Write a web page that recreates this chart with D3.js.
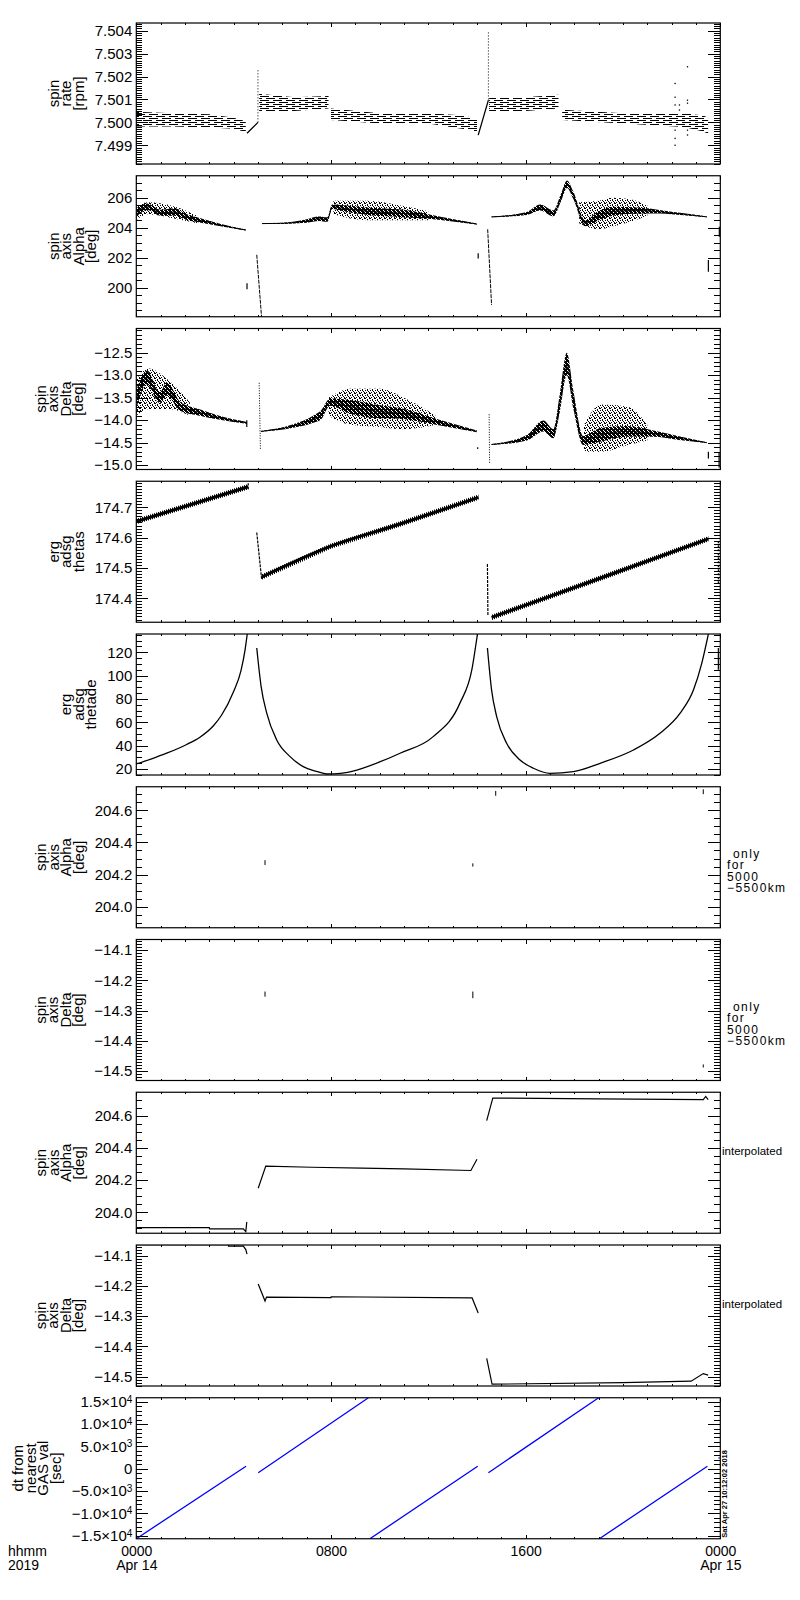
<!DOCTYPE html>
<html>
<head>
<meta charset="utf-8">
<script src="https://cdn.jsdelivr.net/npm/d3@7"></script>
<style>
  body { margin: 0; background: #fff; }
  text { font-family: "Liberation Sans", Arial, sans-serif; fill: #000; }
</style>
</head>
<body>
<div id="chart"></div>
<script>
// ---- time axis (hours from 2019-04-14 00:00) ----
var hourTicks = [0, 8, 16, 24];
var hourLabels = ["0000\nApr 14", "0800", "1600", "0000\nApr 15"];

// ---- panel 1 : spin rate [rpm] ----
var rateHours = [0, 1.5, 3.0, 4.0, 4.5, null, 5.05, 6.5, 7.9, null, 8.0, 10, 12, 13.5, 14.0, null, 14.5, 16, 17.35, null, 17.5, 20, 22.5, 23.3, 23.5];
var rateLo = [7.49982, 7.49982, 7.49978, 7.49972, 7.49958, null, 7.50046, 7.5005, 7.5006, null, 7.5001, 7.49995, 7.49995, 7.4997, 7.4996, null, 7.50048, 7.5005, 7.5006, null, 7.5001, 7.49995, 7.4998, 7.4996, 7.4995];
var rateHi = [7.50046, 7.5004, 7.50035, 7.5002, 7.50005, null, 7.50125, 7.5011, 7.50115, null, 7.5006, 7.5004, 7.5004, 7.5003, 7.5001, null, 7.5011, 7.5011, 7.5012, null, 7.50055, 7.5004, 7.5004, 7.5003, 7.5002];
var rateRampHours = [4.55, 5.0, null, 14.05, 14.47];
var rateRampVals = [7.49952, 7.5000, null, 7.49944, 7.50097];
var rateSpikeHours = [5.0, 14.47];
var rateSpikeLo = [7.5000, 7.5010];
var rateSpikeHi = [7.50236, 7.5040];
var rateOutHours = [22.14, 22.14, 22.14, 22.14, 22.14, 22.14, 22.32, 22.32, 22.65, 22.65, 22.65, 22.65, 22.65];
var rateOutVals = [7.5017, 7.5011, 7.50076, 7.49966, 7.4993, 7.4990, 7.50076, 7.50054, 7.50243, 7.50097, 7.50084, 7.49966, 7.49945];

// ---- panel 2 : spin axis Alpha [deg] ----
var alphaCoreHours = [0, 0.45, 1.0, 1.6, 2.0, 2.6, 3.4, 4.5, null, 5.17, 6.0, 7.0, 7.5, 7.85, 8.05, 8.5, 9.5, 10.5, 11.0, 12.0, 13.0, 14.0, null, 14.6, 16.05, 16.6, 17.14, 17.45, 17.7, 17.95, 18.45, 19.0, 19.6, 20.7, 21.5, 22.5, 23.45];
var alphaCoreMid = [205.0, 205.4, 205.0, 205.05, 204.75, 204.5, 204.2, 203.85, null, 204.28, 204.3, 204.45, 204.6, 204.55, 205.4, 205.3, 205.1, 205.0, 204.95, 204.75, 204.5, 204.25, null, 204.73, 204.96, 205.35, 204.96, 206.0, 206.9, 206.2, 204.3, 204.8, 205.1, 205.15, 205.07, 204.9, 204.73];
var alphaCoreHalf = [0.3, 0.22, 0.2, 0.25, 0.2, 0.15, 0.08, 0.03, null, 0.02, 0.04, 0.12, 0.15, 0.15, 0.15, 0.2, 0.25, 0.25, 0.25, 0.15, 0.08, 0.03, null, 0.02, 0.1, 0.2, 0.2, 0.25, 0.25, 0.25, 0.2, 0.3, 0.3, 0.2, 0.12, 0.07, 0.03];
var alphaCloudHours = [0, 0.45, 1.6, 2.5, null, 8.1, 9.5, 10.8, 12.0, null, 18.2, 19.0, 19.6, 20.3, 21.0];
var alphaCloudLo = [204.5, 204.9, 204.6, 204.3, null, 204.9, 204.5, 204.5, 204.5, null, 204.3, 203.9, 204.1, 204.4, 204.8];
var alphaCloudHi = [205.4, 205.7, 205.4, 204.8, null, 205.8, 205.8, 205.5, 205.1, null, 205.7, 205.8, 206.0, 205.9, 205.5];
var alphaMarkHours = [4.55, 14.05, 23.51, 23.96];
var alphaMarkLo = [199.9, 201.96, 201.07, 203.4];
var alphaMarkHi = [200.3, 202.3, 201.85, 204.07];
var alphaDropHours = [4.95, 5.15, null, 14.44, 14.6];
var alphaDropVals = [202.2, 198.0, null, 203.9, 198.85];

// ---- panel 3 : spin axis Delta [deg] ----
var deltaCoreHours = [0, 0.43, 0.97, 1.25, 1.8, 2.6, 3.44, 4.54, null, 5.12, 6.45, 7.27, 7.6, 7.96, 8.78, 9.8, 10.84, 12.2, 14.0, null, 14.6, 16.05, 16.73, 17.14, 17.41, 17.69, 17.96, 18.37, 19.06, 20.16, 21.25, 22.3, 23.44];
var deltaCoreMid = [-13.54, -13.05, -13.5, -13.31, -13.69, -13.83, -13.95, -14.06, null, -14.25, -14.13, -13.98, -13.88, -13.6, -13.7, -13.8, -13.85, -14.02, -14.25, null, -14.54, -14.39, -14.13, -14.3, -13.6, -12.75, -13.54, -14.45, -14.33, -14.25, -14.3, -14.4, -14.5];
var deltaCoreHalf = [0.2, 0.15, 0.12, 0.15, 0.1, 0.07, 0.04, 0.02, null, 0.01, 0.04, 0.08, 0.1, 0.08, 0.15, 0.15, 0.12, 0.07, 0.02, null, 0.01, 0.06, 0.12, 0.1, 0.2, 0.25, 0.2, 0.1, 0.15, 0.12, 0.07, 0.04, 0.01];
var deltaCloudHours = [0, 0.5, 1.3, 2.2, null, 7.9, 8.8, 10.0, 11.0, 12.3, null, 18.4, 19.1, 20.2, 21.0];
var deltaCloudLo = [-13.9, -13.75, -13.75, -13.9, null, -13.9, -14.1, -14.15, -14.2, -14.1, null, -14.7, -14.7, -14.55, -14.45];
var deltaCloudHi = [-13.1, -12.85, -13.1, -13.6, null, -13.5, -13.3, -13.3, -13.5, -13.9, null, -14.1, -13.65, -13.7, -14.1];
var deltaMarkHours = [4.54, 14.03, 23.51, 23.95];
var deltaMarkLo = [-14.15, -14.64, -14.85, -15.05];
var deltaMarkHi = [-14.0, -14.6, -14.7, -14.72];
var deltaDropHours = [5.05, 5.1, null, 14.5, 14.52];
var deltaDropVals = [-13.17, -14.65, null, -13.87, -14.95];

// ---- panel 4 : erg adsg thetas ----
var thetasHours = [0, 4.6, null, 5.15, 8.0, 10.84, 14.06, null, 14.6, 19.06, 23.51];
var thetasVals = [174.653, 174.768, null, 174.47, 174.572, 174.645, 174.733, null, 174.337, 174.466, 174.596];
var thetasSpread = 0.009;
var thetasDropHours = [4.95, 5.15, null, 14.43, 14.45];
var thetasDropVals = [174.617, 174.464, null, 174.513, 174.343];
var thetasMarkHours = [4.6, 23.92];
var thetasMarkLo = [174.76, 174.45];
var thetasMarkHi = [174.785, 174.59];

// ---- panel 5 : erg adsg thetade ----
var thetadeHours = [0, 0.6, 1.25, 2.07, 2.6, 3.17, 3.5, 3.99, 4.3, 4.47, 4.56, null, 4.95, 5.13, 5.36, 5.77, 6.32, 6.86, 7.4, 7.83, 8.4, 9.06, 10.0, 10.84, 12.2, 13.3, 13.79, 14.02, null, 14.43, 14.6, 14.81, 15.22, 15.77, 16.32, 17.0, 17.96, 19.06, 20.43, 21.52, 22.35, 22.9, 23.24, 23.51];
var thetadeVals = [24.3, 28.5, 33.5, 41, 47, 57, 66, 86, 104, 122, 135.6, null, 123.6, 90.6, 67.8, 44.9, 30.6, 22, 18, 15.7, 16.3, 19.1, 26, 33.5, 47.7, 76.4, 105, 135.6, null, 123.6, 87.8, 64.9, 42, 27.7, 20.6, 16.3, 17.7, 24.9, 36.3, 50.6, 67.8, 87.8, 110.7, 135.6];
var thetadeMarkHours = [23.92];
var thetadeMarkLo = [105];
var thetadeMarkHi = [123.6];

// ---- panel 6 / 7 : only for 5000-5500 km ----
var onlyAlphaHours = [5.29, 13.83, 14.77, 23.3];
var onlyAlphaLo = [204.26, 204.25, 204.69, 204.70];
var onlyAlphaHi = [204.29, 204.27, 204.72, 204.73];
var onlyDeltaHours = [5.29, 13.83, 23.3];
var onlyDeltaLo = [-14.254, -14.259, -14.488];
var onlyDeltaHi = [-14.237, -14.237, -14.478];

// ---- panel 8 / 9 : interpolated ----
var interpAlphaHours = [0, 3.0, 3.01, 4.4, 4.5, 4.54, null, 5.01, 5.32, 7.2, 9.26, 11.0, 13.75, 14.0, null, 14.4, 14.65, 19.0, 23.3, 23.4, 23.5];
var interpAlphaVals = [203.905, 203.905, 203.897, 203.897, 203.88, 203.94, null, 204.15, 204.287, 204.28, 204.275, 204.27, 204.26, 204.33, null, 204.57, 204.71, 204.705, 204.70, 204.72, 204.70];
var interpDeltaHours = [0, 3.78, 3.79, 4.4, 4.5, 4.55, null, 5.01, 5.29, 5.35, 8.0, 8.01, 13.8, 14.05, null, 14.4, 14.62, 20, 22.8, 23.3, 23.5];
var interpDeltaVals = [-14.064, -14.064, -14.069, -14.069, -14.08, -14.095, null, -14.194, -14.25, -14.237, -14.239, -14.236, -14.24, -14.29, null, -14.44, -14.525, -14.52, -14.515, -14.49, -14.495];

// ---- panel 10 : dt from nearest GAS val [sec] ----
var dtHours = [0, 4.51, null, 5.01, 9.54, null, 9.6, 14.03, null, 14.47, 19.0, null, 19.03, 23.47];
var dtVals = [-15670, 575, null, -885, 15900, null, -15670, 575, null, -885, 15900, null, -15670, 575];
var dtDotHours = [0, 23.95];
var dtDotVals = [15600, 2430];

// ---- axes per panel ----
var yDomains = [[7.49818, 7.50434], [198.07, 207.47], [-15.096, -11.964], [174.321, 174.786], [14.85, 135.6],
                [203.87, 204.746], [-14.531, -14.065], [203.87, 204.746], [-14.531, -14.065], [-15670, 15900]];
var yMajors = [[7.499, 7.500, 7.501, 7.502, 7.503, 7.504], [200, 202, 204, 206], [-15, -14.5, -14, -13.5, -13, -12.5],
               [174.4, 174.5, 174.6, 174.7], [20, 40, 60, 80, 100, 120], [204.0, 204.2, 204.4, 204.6],
               [-14.5, -14.4, -14.3, -14.2, -14.1], [204.0, 204.2, 204.4, 204.6], [-14.5, -14.4, -14.3, -14.2, -14.1],
               [-15000, -10000, -5000, 0, 5000, 10000, 15000]];
var yMinorSteps = [0.0001, 0.5, 0.1, 0.01, 5, 0.05, 0.01, 0.05, 0.01, 1000];
var yTitles = [["spin", "rate", "[rpm]"], ["spin", "axis", "Alpha", "[deg]"], ["spin", "axis", "Delta", "[deg]"],
               ["erg", "adsg", "thetas"], ["erg", "adsg", "thetade"], ["spin", "axis", "Alpha", "[deg]"],
               ["spin", "axis", "Delta", "[deg]"], ["spin", "axis", "Alpha", "[deg]"], ["spin", "axis", "Delta", "[deg]"],
               ["dt from", "nearest", "GAS val", "[sec]"]];
var sideNotes = [null, null, null, null, null, ["only", "for", "5000", "\u22125500km"], ["only", "for", "5000", "\u22125500km"],
                 ["interpolated"], ["interpolated"], null];

var W = 800, H = 1600;
var left = 136.3, right = 720.3, top0 = 23, pStep = 152.75, ph = 141;

var svg = d3.select('#chart').append('svg').attr('width', W).attr('height', H);
var defs = svg.append('defs');

var x = d3.scaleLinear().domain([0, 24]).range([left, right]);

// fill textures for the dense point clouds
function pattern(id, w, h, cells, bg) {
  var p = defs.append('pattern').attr('id', id).attr('patternUnits', 'userSpaceOnUse')
    .attr('width', w).attr('height', h);
  if (bg) p.append('rect').attr('width', w).attr('height', h).attr('fill', bg);
  cells.forEach(function(c) {
    p.append('rect').attr('x', c[0]).attr('y', c[1]).attr('width', c[2] || 1).attr('height', c[3] || 1)
      .attr('fill', c[4] || '#000');
  });
}
pattern('dash', 13, 4, [[0, 0, 9, 1], [6, 2, 7, 1], [0, 2, 2, 1]]);
pattern('core', 4, 4, [[1, 0, 1, 1, '#fff'], [3, 2, 1, 1, '#fff'], [0, 3, 1, 1, '#fff']], '#000');
pattern('cloud', 5, 5, [[0, 0], [3, 1], [1, 2], [4, 3], [2, 4], [2, 0], [4, 2], [0, 3]]);
pattern('vstripe', 2, 1, [[0, 0]]);

function rows(hours, a, b) {
  return hours.map(function(h, k) { return {h: h, a: a[k], b: b ? b[k] : null}; });
}
function drawBand(g, y, hours, lo, hi, fill, curve) {
  var area = d3.area().defined(function(d) { return d.h != null; })
    .x(function(d) { return x(d.h); }).y0(function(d) { return y(d.a); }).y1(function(d) { return y(d.b); })
    .curve(curve || d3.curveMonotoneX);
  g.append('path').attr('d', area(rows(hours, lo, hi))).attr('fill', fill).attr('stroke', 'none');
}
function midBand(g, y, hours, mid, half, fill) {
  var lo = mid.map(function(m, k) { return m == null ? null : m - half[k]; });
  var hi = mid.map(function(m, k) { return m == null ? null : m + half[k]; });
  drawBand(g, y, hours, lo, hi, fill);
}
function drawLine(g, y, hours, vals, opt) {
  opt = opt || {};
  var line = d3.line().defined(function(d) { return d.h != null; })
    .x(function(d) { return x(d.h); }).y(function(d) { return y(d.a); })
    .curve(opt.curve || d3.curveLinear);
  g.append('path').attr('d', line(rows(hours, vals))).attr('fill', 'none')
    .attr('stroke', opt.color || '#000').attr('stroke-width', opt.w || 1.2)
    .attr('stroke-dasharray', opt.dash || null);
}
function drawMarks(g, y, hours, lo, hi, opt) {
  opt = opt || {};
  g.selectAll(null).data(rows(hours, lo, hi)).enter().append('line')
    .attr('x1', function(d) { return x(d.h); }).attr('x2', function(d) { return x(d.h); })
    .attr('y1', function(d) { return y(d.a); }).attr('y2', function(d) { return y(d.b); })
    .attr('stroke', opt.color || '#000').attr('stroke-width', opt.w || 1.2)
    .attr('stroke-dasharray', opt.dash || null);
}
function drawDots(g, y, hours, vals, color) {
  g.selectAll(null).data(rows(hours, vals)).enter().append('rect')
    .attr('x', function(d) { return x(d.h) - 0.6; }).attr('y', function(d) { return y(d.a) - 0.6; })
    .attr('width', 1.3).attr('height', 1.3).attr('fill', color || '#000');
}

var drawers = [
  function(g, y) {
    drawBand(g, y, rateHours, rateLo, rateHi, 'url(#dash)', d3.curveLinear);
    drawLine(g, y, rateRampHours, rateRampVals, {w: 1.3});
    drawMarks(g, y, rateSpikeHours, rateSpikeLo, rateSpikeHi, {dash: '1,2', w: 1});
    drawDots(g, y, rateOutHours, rateOutVals);
  },
  function(g, y) {
    drawBand(g, y, alphaCloudHours, alphaCloudLo, alphaCloudHi, 'url(#cloud)');
    midBand(g, y, alphaCoreHours, alphaCoreMid, alphaCoreHalf, 'url(#core)');
    drawLine(g, y, alphaCoreHours, alphaCoreMid, {w: 1, curve: d3.curveMonotoneX});
    drawLine(g, y, alphaDropHours, alphaDropVals, {w: 1, dash: '4,1'});
    drawMarks(g, y, alphaMarkHours, alphaMarkLo, alphaMarkHi);
  },
  function(g, y) {
    drawBand(g, y, deltaCloudHours, deltaCloudLo, deltaCloudHi, 'url(#cloud)');
    midBand(g, y, deltaCoreHours, deltaCoreMid, deltaCoreHalf, 'url(#core)');
    drawLine(g, y, deltaCoreHours, deltaCoreMid, {w: 1, curve: d3.curveMonotoneX});
    drawLine(g, y, deltaDropHours, deltaDropVals, {w: 1, dash: '1,1.5'});
    drawMarks(g, y, deltaMarkHours, deltaMarkLo, deltaMarkHi);
  },
  function(g, y) {
    var lo = thetasVals.map(function(v) { return v == null ? null : v - thetasSpread; });
    var hi = thetasVals.map(function(v) { return v == null ? null : v + thetasSpread; });
    drawBand(g, y, thetasHours, lo, hi, 'url(#vstripe)', d3.curveLinear);
    drawLine(g, y, thetasHours, thetasVals, {w: 3, curve: d3.curveMonotoneX});
    drawLine(g, y, thetasDropHours, thetasDropVals, {w: 1.2, dash: '3,1'});
    drawMarks(g, y, thetasMarkHours, thetasMarkLo, thetasMarkHi, {dash: '2,2'});
  },
  function(g, y) {
    drawLine(g, y, thetadeHours, thetadeVals, {w: 1.3, curve: d3.curveMonotoneX});
    drawMarks(g, y, thetadeMarkHours, thetadeMarkLo, thetadeMarkHi);
  },
  function(g, y) { drawMarks(g, y, onlyAlphaHours, onlyAlphaLo, onlyAlphaHi, {w: 1}); },
  function(g, y) { drawMarks(g, y, onlyDeltaHours, onlyDeltaLo, onlyDeltaHi, {w: 1}); },
  function(g, y) { drawLine(g, y, interpAlphaHours, interpAlphaVals, {w: 1.2}); },
  function(g, y) { drawLine(g, y, interpDeltaHours, interpDeltaVals, {w: 1.2}); },
  function(g, y) {
    drawLine(g, y, dtHours, dtVals, {w: 1.3, color: '#0000ff'});
    drawDots(g, y, dtDotHours, dtDotVals, '#0000ff');
  }
];

var yFormats = [d3.format('.3f'), d3.format('d'), d3.format('.1f'), d3.format('.1f'), d3.format('d'),
                d3.format('.1f'), d3.format('.1f'), d3.format('.1f'), d3.format('.1f'), d3.format('d')];

function minorTicks(dom, st, majors) {
  var lo = Math.min(dom[0], dom[1]), hi = Math.max(dom[0], dom[1]), out = [];
  for (var n = Math.ceil(lo / st - 1e-9); n * st <= hi + 1e-12; n++) {
    var v = +(n * st).toFixed(8);
    if (!majors.some(function(m) { return Math.abs(m - v) < st / 10; })) out.push(v);
  }
  return out;
}
function clean(sel) {
  sel.select('.domain').remove();
  sel.attr('font-family', null).attr('font-size', 15);
  sel.selectAll('line').attr('stroke', '#000').attr('shape-rendering', 'crispEdges');
}
var hourMinors = minorTicks([0, 24], 1, hourTicks);

yDomains.forEach(function(dom, i) {
  var y0 = top0 + i * pStep, y1 = y0 + ph;
  var y = d3.scaleLinear().domain(dom).range([y1, y0]);
  var g = svg.append('g');

  defs.append('clipPath').attr('id', 'clip' + i).append('rect')
    .attr('x', left).attr('y', y0).attr('width', right - left).attr('height', ph);
  var plot = g.append('g').attr('clip-path', 'url(#clip' + i + ')');
  drawers[i](plot, y);

  var majors = yMajors[i], minors = minorTicks(dom, yMinorSteps[i], majors);
  // inward ticks on all four sides
  g.append('g').attr('transform', 'translate(' + left + ',0)')
    .call(d3.axisRight(y).tickValues(majors).tickSize(12).tickFormat('')).call(clean);
  g.append('g').attr('transform', 'translate(' + left + ',0)')
    .call(d3.axisRight(y).tickValues(minors).tickSize(6).tickFormat('')).call(clean);
  g.append('g').attr('transform', 'translate(' + right + ',0)')
    .call(d3.axisLeft(y).tickValues(majors).tickSize(12).tickFormat('')).call(clean);
  g.append('g').attr('transform', 'translate(' + right + ',0)')
    .call(d3.axisLeft(y).tickValues(minors).tickSize(6).tickFormat('')).call(clean);
  g.append('g').attr('transform', 'translate(0,' + y0 + ')')
    .call(d3.axisBottom(x).tickValues(hourTicks).tickSize(4).tickFormat('')).call(clean);
  g.append('g').attr('transform', 'translate(0,' + y0 + ')')
    .call(d3.axisBottom(x).tickValues(hourMinors).tickSize(2).tickFormat('')).call(clean);
  g.append('g').attr('transform', 'translate(0,' + y1 + ')')
    .call(d3.axisTop(x).tickValues(hourTicks).tickSize(4).tickFormat('')).call(clean);
  g.append('g').attr('transform', 'translate(0,' + y1 + ')')
    .call(d3.axisTop(x).tickValues(hourMinors).tickSize(2).tickFormat('')).call(clean);

  g.append('rect').attr('x', left).attr('y', y0).attr('width', right - left).attr('height', ph)
    .attr('fill', 'none').attr('stroke', '#000').attr('stroke-width', 1.2);

  // tick labels
  var lab = g.append('g').attr('transform', 'translate(' + left + ',0)')
    .call(d3.axisLeft(y).tickValues(majors).tickSize(0).tickPadding(4).tickFormat(yFormats[i])).call(clean);
  if (i === 9) {
    lab.selectAll('text').each(function(v) {
      var t = d3.select(this);
      if (v === 0) { t.text('0'); return; }
      var e = Math.floor(Math.log10(Math.abs(v)));
      var m = (Math.abs(v) / Math.pow(10, e)).toFixed(1);
      t.text(null);
      t.append('tspan').text((v < 0 ? '\u2212' : '') + m + '\u00d710');
      t.append('tspan').attr('dy', '-0.45em').attr('font-size', 10).text(e);
    });
  }

  // stacked, rotated y title
  var bb = lab.node().getBBox();
  var edge = left + bb.x - 11;
  var lines = yTitles[i], cy = (y0 + y1) / 2;
  lines.forEach(function(s, k) {
    var bx = edge - (lines.length - 1 - k) * 12.5;
    g.append('text').attr('transform', 'translate(' + bx + ',' + cy + ') rotate(-90)')
      .attr('text-anchor', 'middle').attr('font-size', 15).text(s);
  });

  // notes on the right
  var note = sideNotes[i];
  if (note && note.length > 1) {
    note.forEach(function(s, k) {
      g.append('text').attr('x', 727 + (k === 0 ? 6 : 0)).attr('y', cy + 0.5 + k * 11.5)
        .attr('font-size', 12).attr('letter-spacing', 1.4).text(s);
    });
  } else if (note) {
    g.append('text').attr('x', 722).attr('y', cy - 8).attr('font-size', 11.5).text(note[0]);
  }

  // time labels under the last panel
  if (i === 9) {
    var xl = g.append('g').attr('transform', 'translate(0,' + y1 + ')')
      .call(d3.axisBottom(x).tickValues(hourTicks).tickSize(0).tickFormat(function(d, k) { return hourLabels[k]; }))
      .call(clean);
    xl.attr('font-size', 14);
    xl.selectAll('text').each(function(d, k) {
      var t = d3.select(this), parts = hourLabels[k].split('\n');
      t.attr('y', null).attr('dy', null).text(null);
      parts.forEach(function(p, j) {
        t.append('tspan').attr('x', 0).attr('y', 17 + j * 14.5).text(p);
      });
    });
    g.append('text').attr('x', 8).attr('y', y1 + 17).attr('font-size', 14).text('hhmm');
    g.append('text').attr('x', 8).attr('y', y1 + 31.5).attr('font-size', 14).text('2019');
    g.append('text').attr('transform', 'translate(727,' + (y1 - 1) + ') rotate(-90)')
      .attr('font-size', 7.5).attr('font-weight', 'bold').text('Sat Apr 27 10:12:02 2018');
  }
});
</script>
</body>
</html>
